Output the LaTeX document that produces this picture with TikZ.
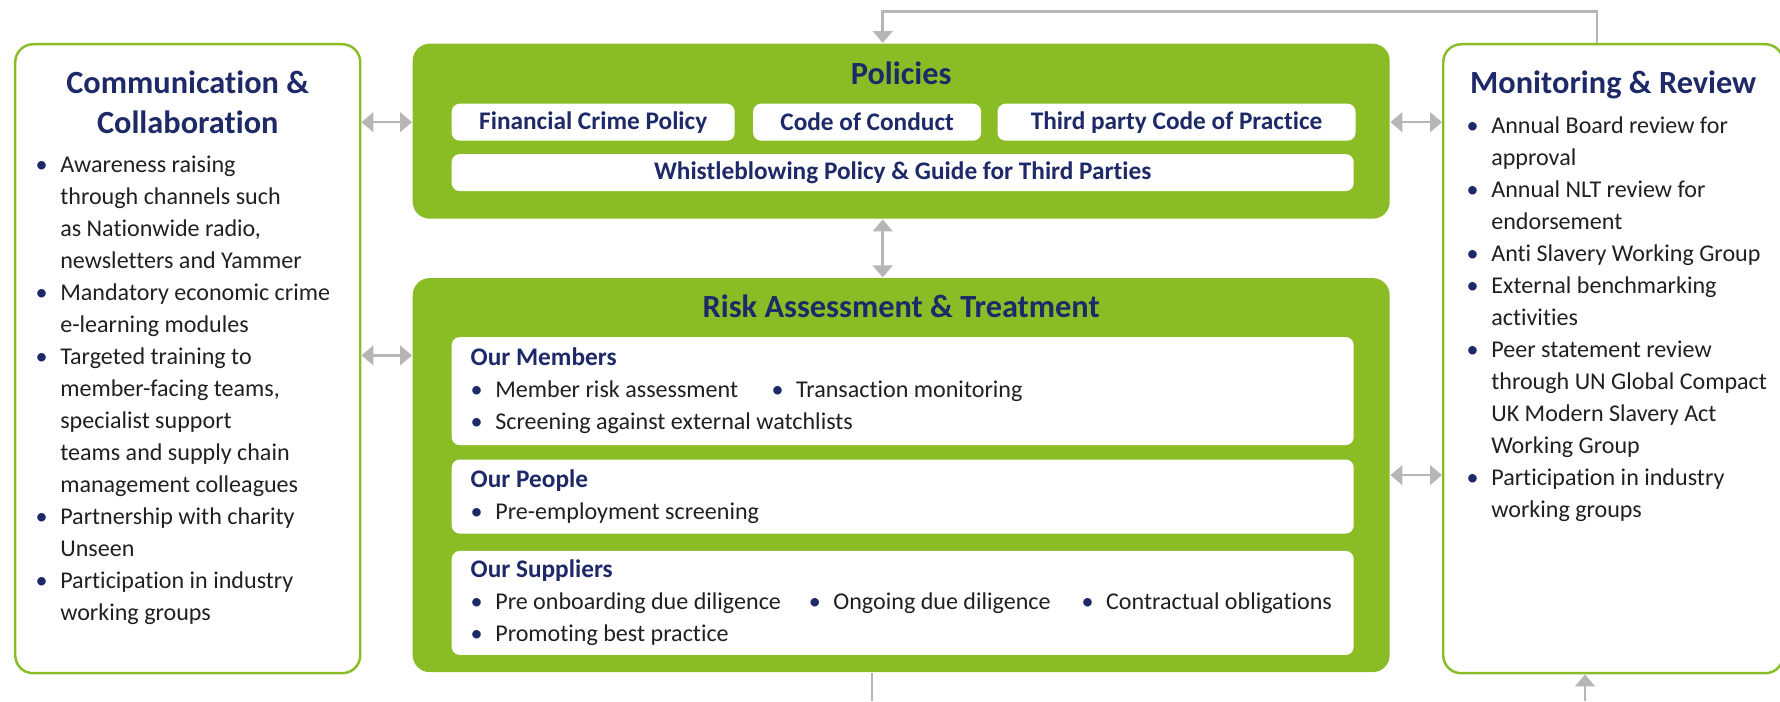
\documentclass[tikz,border=0pt]{standalone}
\usepackage{fontspec}
\setmainfont{Carlito}[Ligatures=NoCommon]
\usetikzlibrary{positioning,arrows.meta}
\definecolor{nwgreen}{RGB}{138,188,37}
\definecolor{nwnavy}{RGB}{30,42,104}
\definecolor{nwgrey}{RGB}{182,182,182}
\definecolor{nwtext}{RGB}{35,31,32}
\newcommand{\bul}{\makebox[7pt][l]{\textcolor{nwnavy}{\textbullet}}}
\newcommand{\contd}{\hspace*{7pt}}
\newcommand{\colitem}[2]{\makebox[#1][l]{\bul #2}}
\newcommand{\paneltitle}[1]{{\fontsize{7.2}{9.1}\selectfont\bfseries\color{nwnavy}#1}}

\begin{document}
\begin{tikzpicture}[
    outerbox/.style={draw=nwgreen, line width=0.7pt, rounded corners=0.18cm, anchor=north west},
    greenbox/.style={fill=nwgreen, rounded corners=0.17cm, anchor=north west},
    tag/.style={fill=white, rounded corners=0.08cm, minimum height=0.37cm, inner sep=0,
                font=\fontsize{7.2}{8.6}\selectfont\bfseries, text=nwnavy},
    panel/.style={fill=white, rounded corners=0.08cm, text width=8.64cm, inner xsep=0.19cm,
                  inner ysep=0, align=flush left, font=\fontsize{6.85}{9.1}\selectfont, text=nwtext},
    boxhead/.style={font=\fontsize{9.2}{11.4}\selectfont\bfseries, text=nwnavy, inner sep=0, align=center},
    bullets/.style={font=\fontsize{6.85}{9.1}\selectfont, text=nwtext, inner sep=0, align=left, anchor=north west},
    link/.style={draw=nwgrey, line width=0.7pt},
    biarrow/.style={link, {Triangle[width=5.6pt,length=3.4pt]}-{Triangle[width=5.6pt,length=3.4pt]}},
    onearrow/.style={link, -{Triangle[width=5.6pt,length=3.4pt]}}
  ]
  \useasboundingbox (0,0) rectangle (17.8,7.01);

  % outer frames
  \node[outerbox, minimum width=3.45cm, minimum height=6.29cm] (comm) at (0.14,6.58) {};
  \node[outerbox, minimum width=3.40cm, minimum height=6.29cm] (mon) at (14.42,6.58) {};
  \node[greenbox, minimum width=9.77cm, minimum height=1.75cm] (pol) at (4.12,6.58) {};
  \node[greenbox, minimum width=9.77cm, minimum height=3.94cm, below=0.58cm of pol] (risk) {};

  % titles
  \node[boxhead, anchor=north] (commhead) at ([yshift=-0.27cm]comm.north) {Communication \&\\Collaboration};
  \node[boxhead, anchor=north] (monhead) at ([yshift=-0.27cm]mon.north) {Monitoring \& Review};
  \node[boxhead, anchor=base] (polhead) at ([yshift=-0.42cm]pol.north) {Policies};
  \node[boxhead, anchor=base] (riskhead) at ([yshift=-0.40cm]risk.north) {Risk Assessment \& Treatment};

  % policies
  \node[tag, minimum width=2.83cm, anchor=north west] (fin) at ([xshift=0.39cm, yshift=-0.60cm]pol.north west) {Financial Crime Policy};
  \node[tag, minimum width=2.28cm, right=0.17cm of fin] (code) {Code of Conduct};
  \node[tag, minimum width=3.58cm, right=0.15cm of code] (third) {Third party Code of Practice};
  \node[tag, minimum width=9.02cm, below=0.12cm of fin.south west, anchor=north west] (whistle) {Whistleblowing Policy \& Guide for Third Parties};

  % risk panels
  \node[panel, minimum height=1.08cm, anchor=north west] (members) at ([xshift=0.39cm, yshift=-0.59cm]risk.north west)
    {\paneltitle{Our Members}\\
     \colitem{85.6pt}{Member risk assessment}\bul Transaction monitoring\\
     \bul Screening against external watchlists};
  \node[panel, minimum height=0.74cm, below=0.13cm of members] (people)
    {\paneltitle{Our People}\\
     \bul Pre-employment screening};
  \node[panel, minimum height=1.04cm, below=0.16cm of people] (suppliers)
    {\paneltitle{Our Suppliers}\\
     \colitem{96.2pt}{Pre onboarding due diligence}\colitem{77.6pt}{Ongoing due diligence}\bul Contractual obligations\\
     \bul Promoting best practice};

  % side lists
  \node[bullets] (commlist) at ([xshift=0.21cm, yshift=-1.12cm]comm.north west)
    {\bul Awareness raising\\ \contd through channels such\\ \contd as Nationwide radio,\\ \contd newsletters and Yammer\\
     \bul Mandatory economic crime\\ \contd e-learning modules\\
     \bul Targeted training to\\ \contd member-facing teams,\\ \contd specialist support\\ \contd teams and supply chain\\ \contd management colleagues\\
     \bul Partnership with charity\\ \contd Unseen\\
     \bul Participation in industry\\ \contd working groups};
  \node[bullets] (monlist) at ([xshift=0.24cm, yshift=-0.73cm]mon.north west)
    {\bul Annual Board review for\\ \contd approval\\
     \bul Annual NLT review for\\ \contd endorsement\\
     \bul Anti Slavery Working Group\\
     \bul External benchmarking\\ \contd activities\\
     \bul Peer statement review\\ \contd through UN Global Compact\\ \contd UK Modern Slavery Act\\ \contd Working Group\\
     \bul Participation in industry\\ \contd working groups};

  % connectors
  \coordinate (memrow) at ([yshift=-0.19cm]members.north);
  \coordinate (ret) at (10,6.893);
  \coordinate (outl) at (8.72,0);
  \coordinate (outr) at (15.85,0);
  \draw[biarrow] (comm.east |- fin) -- (pol.west |- fin);
  \draw[biarrow] (comm.east |- memrow) -- (risk.west |- memrow);
  \draw[biarrow] (pol.east |- fin) -- (mon.west |- fin);
  \draw[biarrow] (risk.east) -- (risk.east -| mon.west);
  \draw[biarrow] ([xshift=-0.185cm]pol.south) -- ([xshift=-0.185cm]risk.north);
  \draw[onearrow] ([xshift=-0.16cm]mon.north) |- (ret) -| ([xshift=-0.185cm]pol.north);
  \draw[link] (risk.south -| outl) -- (outl);
  \draw[onearrow] (outr) -- (outr |- mon.south);
\end{tikzpicture}
\end{document}
